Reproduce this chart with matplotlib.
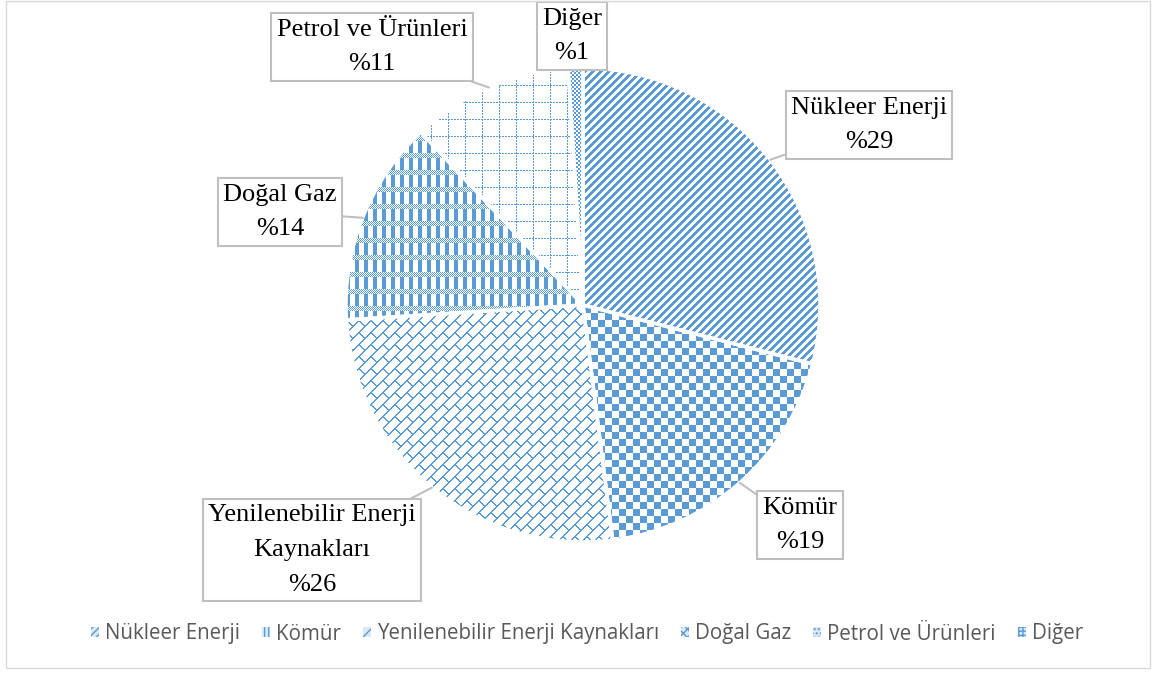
import numpy as np
import matplotlib
matplotlib.use('Agg')
import matplotlib.pyplot as plt
from matplotlib.patches import Patch, Rectangle

# ---- data ----
categories = ['Nükleer Enerji', 'Kömür', 'Yenilenebilir Enerji Kaynakları',
              'Doğal Gaz', 'Petrol ve Ürünleri', 'Diğer']
values = [29, 19, 26, 14, 11, 1]
label_names = ['Nükleer Enerji', 'Kömür', 'Yenilenebilir Enerji\nKaynakları',
               'Doğal Gaz', 'Petrol ve Ürünleri', 'Diğer']

# ---- layout (label box centres in pie data units) ----
label_pos = [(1.207, 0.759), (0.916, -0.928), (-1.143, -1.034),
             (-1.278, 0.392), (-0.89, 1.089), (-0.046, 1.135)]

BLUE = np.array([91, 155, 213]) / 255.0
W, H = 1158, 675
N = 474

fig = plt.figure(figsize=(W / 100, H / 100), dpi=100)
fig.patch.set_facecolor('white')
ax = fig.add_axes([346 / W, 133 / H, N / W, N / H])

wedges, _ = ax.pie(values, startangle=90, counterclock=False, radius=1,
                   wedgeprops=dict(facecolor='none', edgecolor='white', linewidth=2.5))

r, c = np.mgrid[0:N, 0:N]


def stripes():
    return ((r + c) % 8) < 4


def checker():
    return ((r // 7 + c // 7) % 2) == 0


def brick():
    u = c + r
    v = c - r
    line = (u % 12) < 2
    off = np.where((u // 12) % 2 == 0, 0, 12)
    tick = ((v - off) % 24) < 2
    return line | tick


def plaid():
    m = (c % 9) < 4
    band = (r % 17) < 5
    fine = ((r + c) % 2) == 0
    return np.where(band, fine, m)


def dotted_grid():
    h = ((r % 17) == 0) & ((c % 3) != 2)
    v = ((c % 17) == 0) & ((r % 3) != 2)
    return h | v


def small_grid():
    return ((r // 2 + c // 2) % 2) == 0


patterns = [stripes(), checker(), brick(), plaid(), dotted_grid(), small_grid()]

for w, pat in zip(wedges, patterns):
    img = np.ones((N, N, 3))
    img[pat] = BLUE
    im = ax.imshow(img, extent=(-1, 1, -1, 1), interpolation='nearest', zorder=0.5)
    im.set_clip_path(w)

ax.set_xlim(-1, 1)
ax.set_ylim(-1, 1)
ax.set_aspect('equal')
ax.axis('off')

# ---- callout labels ----
total = sum(values)
cum = 0
for i, v in enumerate(values):
    mid = np.deg2rad(90 - 360 * (cum + v / 2) / total)
    cum += v
    xy = (np.cos(mid), np.sin(mid))
    ax.annotate(f"{label_names[i]}\n%{v}", xy=xy, xytext=label_pos[i],
                textcoords='data', ha='center', va='center', fontsize=19,
                family='Liberation Serif', linespacing=1.75, color='black',
                bbox=dict(boxstyle='square,pad=0.2', fc='white', ec='#bfbfbf', lw=1.5),
                arrowprops=dict(arrowstyle='-', color='#bfbfbf', lw=1.5,
                                shrinkA=0, shrinkB=0),
                annotation_clip=False, zorder=5)

# ---- legend ----
hatches = ['/////', '||||', '///', 'xxxx', '....', '++++']
handles = [Patch(facecolor='#dbe8f6', edgecolor=BLUE, hatch=h, linewidth=0)
           for h in hatches]
fig.legend(handles, categories, loc='center', bbox_to_anchor=(587 / W, 1 - 634 / H),
           ncol=6, frameon=False, prop=dict(family='Open Sans', size=14.8),
           labelcolor='#595959', handlelength=0.4, handleheight=0.4,
           handletextpad=0.3, columnspacing=1.05)

# ---- outer border ----
fig.add_artist(Rectangle((6 / W, 7 / H), 1144 / W, 667 / H, transform=fig.transFigure,
                         fill=False, ec='#d9d9d9', lw=1))

fig.savefig('out.png', dpi=100, facecolor='white')
